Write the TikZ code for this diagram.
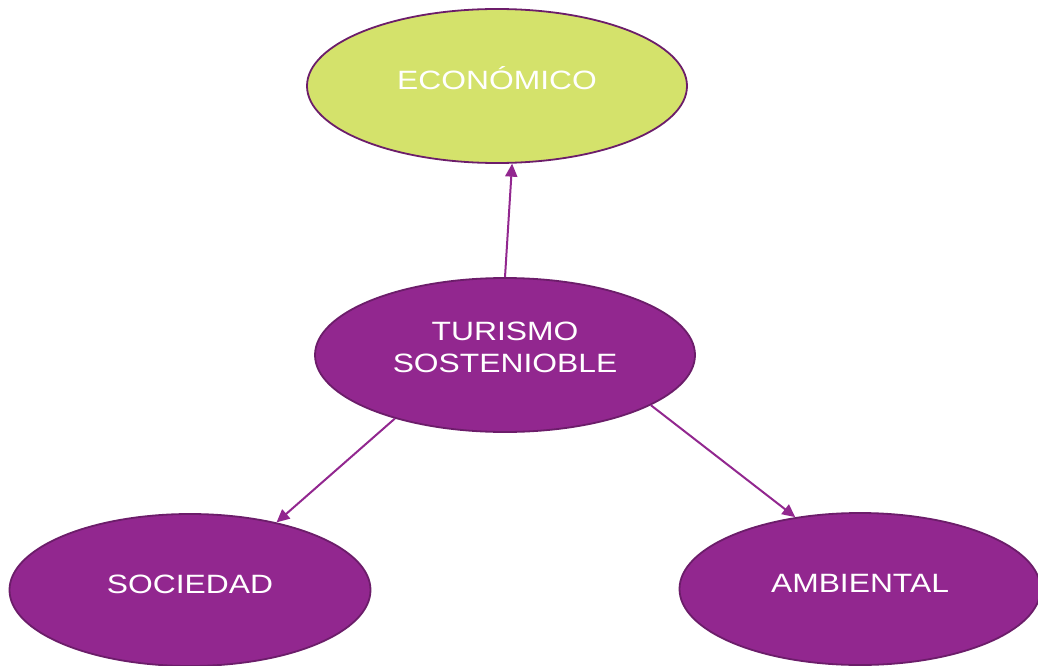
\documentclass[tikz,border=0pt]{standalone}
\usepackage{fontspec}
\newfontfamily\bubfont[FakeStretch=1.2]{Liberation Sans}
\usetikzlibrary{arrows.meta,shapes.geometric}
\definecolor{plum}{HTML}{92278F}
\definecolor{plumedge}{HTML}{6C1D6A}
\definecolor{lime}{HTML}{D4E26B}

\begin{document}
\begin{tikzpicture}[x=1pt,y=-1pt,>={Triangle[length=13pt,width=12pt]},
  bubble/.style={ellipse,draw=plumedge,line width=1.8pt,fill=plum,inner sep=0pt},
  bubtext/.style={yshift=8pt,text=white,align=center,font=\bubfont\fontsize{26.5}{32}\selectfont},
  link/.style={->,draw=plum,fill=plum,line width=2pt}]
\useasboundingbox (0,0) rectangle (1038,666);
\node[bubble,fill=lime,minimum width=380pt,minimum height=154pt,label={[bubtext]center:ECONÓMICO}] (econ) at (497,86) {};
\node[bubble,minimum width=380pt,minimum height=154pt,label={[bubtext]center:{TURISMO\\SOSTENIOBLE}}] (tur) at (505,355) {};
\node[bubble,minimum width=361pt,minimum height=152pt,label={[bubtext,yshift=-2pt]center:SOCIEDAD}] (soc) at (190,590) {};
\node[bubble,minimum width=361pt,minimum height=152pt,label={[bubtext,yshift=-2pt]center:AMBIENTAL}] (amb) at (860,589) {};
\draw[link] (tur.north) -- (econ.-79);
\draw[link] (tur.210) -- (soc.38);
\draw[link] (tur.-19) -- (amb.132);
\end{tikzpicture}
\end{document}
